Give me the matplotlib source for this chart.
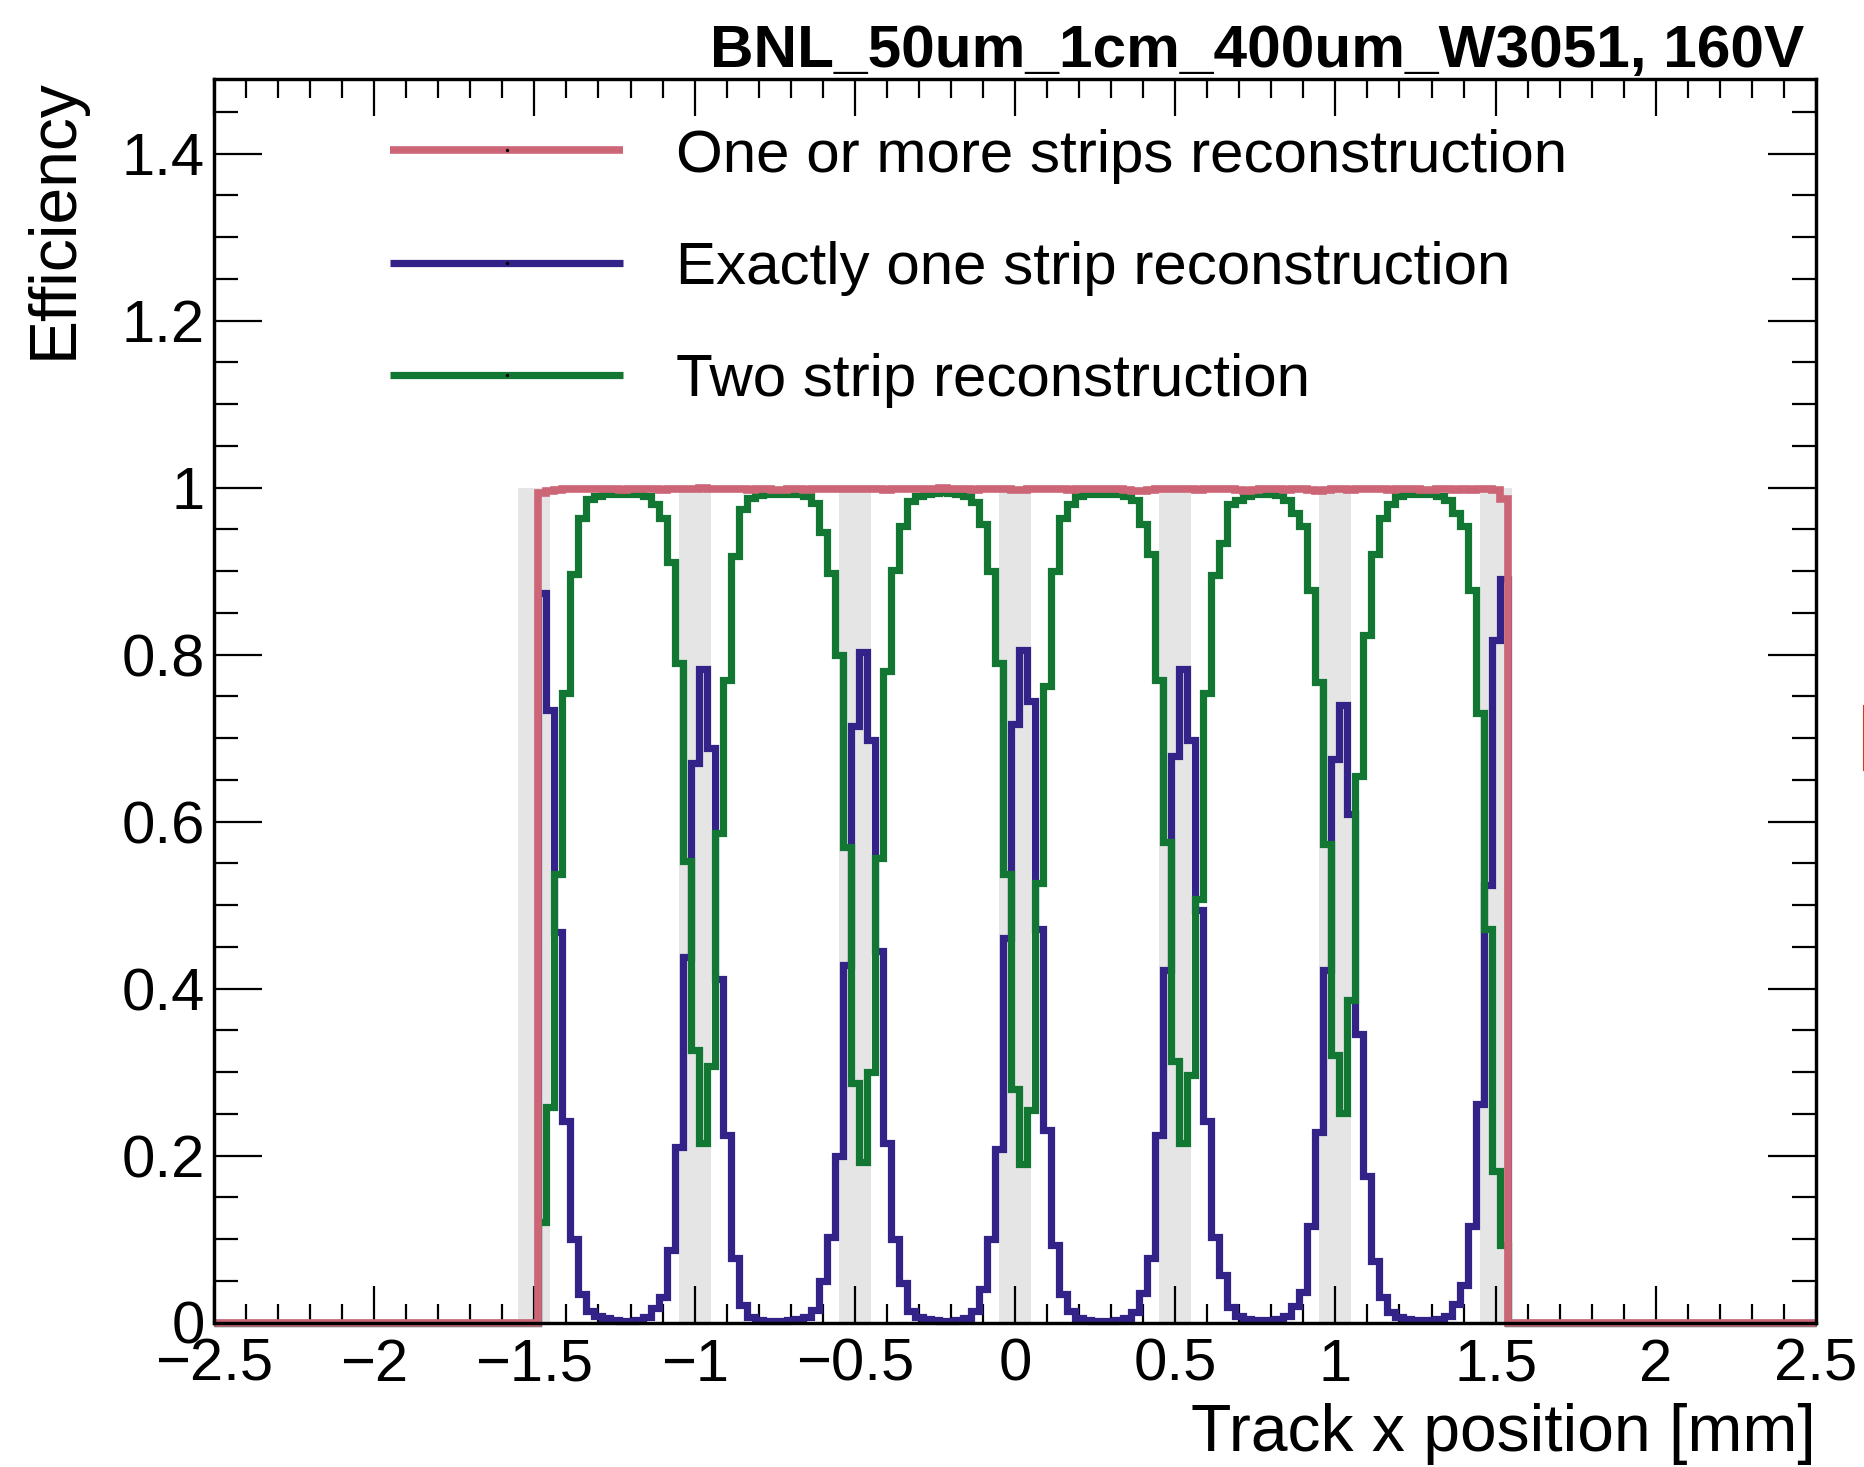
import numpy as np
import matplotlib
matplotlib.use("Agg")
import matplotlib.pyplot as plt
from matplotlib.lines import Line2D
from matplotlib.ticker import MultipleLocator

plt.rcParams['font.family'] = ['Liberation Sans', 'DejaVu Sans']

# ---------------- data ----------------
first_edge = -1.4875      # left edge of first filled bin [mm]
bin_width = 0.025         # [mm]

eff_one_or_more = [
    0.994, 0.996, 0.997, 0.998, 0.998, 0.999, 0.999, 0.999, 0.998, 0.998,
    0.997, 0.998, 0.998, 0.999, 0.998, 0.997, 0.998, 0.999, 0.998, 0.999,
    1.000, 0.999, 0.999, 0.998, 0.998, 0.998, 0.997, 0.998, 0.998, 0.997,
    0.997, 0.998, 0.998, 0.997, 0.998, 0.998, 0.999, 0.999, 0.998, 0.998,
    0.999, 0.999, 0.998, 0.997, 0.998, 0.999, 0.999, 0.998, 0.998, 0.999,
    1.000, 0.999, 0.998, 0.998, 0.997, 0.998, 0.998, 0.999, 0.998, 0.997,
    0.997, 0.998, 0.998, 0.999, 0.998, 0.998, 0.997, 0.998, 0.999, 0.998,
    0.998, 0.999, 0.998, 0.997, 0.996, 0.996, 0.997, 0.998, 0.998, 0.999,
    0.998, 0.998, 0.997, 0.998, 0.998, 0.999, 0.998, 0.997, 0.996, 0.997,
    0.998, 0.998, 0.998, 0.997, 0.998, 0.998, 0.997, 0.996, 0.997, 0.998,
    0.998, 0.997, 0.998, 0.998, 0.999, 0.998, 0.997, 0.998, 0.999, 0.998,
    0.997, 0.997, 0.998, 0.998, 0.997, 0.998, 0.997, 0.998, 0.998, 0.997,
    0.986]

eff_exactly_one = [
    0.874, 0.734, 0.468, 0.241, 0.100, 0.034, 0.014, 0.008, 0.005, 0.003,
    0.002, 0.002, 0.003, 0.007, 0.017, 0.030, 0.087, 0.210, 0.438, 0.670,
    0.783, 0.688, 0.412, 0.225, 0.077, 0.021, 0.006, 0.003, 0.002, 0.002,
    0.002, 0.003, 0.004, 0.006, 0.015, 0.050, 0.103, 0.200, 0.428, 0.714,
    0.803, 0.698, 0.445, 0.215, 0.100, 0.047, 0.014, 0.006, 0.004, 0.003,
    0.002, 0.002, 0.003, 0.005, 0.014, 0.040, 0.100, 0.208, 0.460, 0.717,
    0.806, 0.744, 0.471, 0.231, 0.093, 0.034, 0.014, 0.005, 0.003, 0.002,
    0.002, 0.002, 0.003, 0.005, 0.012, 0.035, 0.077, 0.225, 0.422, 0.678,
    0.783, 0.698, 0.494, 0.241, 0.103, 0.057, 0.018, 0.008, 0.004, 0.003,
    0.003, 0.003, 0.004, 0.008, 0.020, 0.037, 0.116, 0.228, 0.422, 0.675,
    0.740, 0.609, 0.345, 0.175, 0.074, 0.031, 0.013, 0.006, 0.004, 0.003,
    0.003, 0.003, 0.004, 0.008, 0.022, 0.045, 0.116, 0.262, 0.524, 0.817,
    0.891]

eff_two_strip = [
    0.120, 0.258, 0.537, 0.754, 0.897, 0.964, 0.987, 0.990, 0.992, 0.993,
    0.993, 0.993, 0.992, 0.990, 0.980, 0.964, 0.911, 0.790, 0.553, 0.327,
    0.215, 0.307, 0.586, 0.770, 0.918, 0.974, 0.988, 0.991, 0.993, 0.993,
    0.993, 0.993, 0.992, 0.990, 0.982, 0.947, 0.898, 0.800, 0.570, 0.287,
    0.192, 0.300, 0.556, 0.780, 0.901, 0.954, 0.984, 0.990, 0.993, 0.994,
    0.995, 0.994, 0.993, 0.990, 0.983, 0.957, 0.900, 0.790, 0.537, 0.280,
    0.190, 0.254, 0.527, 0.763, 0.900, 0.964, 0.980, 0.990, 0.992, 0.993,
    0.993, 0.993, 0.992, 0.990, 0.985, 0.957, 0.921, 0.770, 0.576, 0.313,
    0.215, 0.297, 0.507, 0.754, 0.895, 0.934, 0.980, 0.985, 0.990, 0.992,
    0.993, 0.993, 0.991, 0.985, 0.970, 0.954, 0.878, 0.767, 0.573, 0.320,
    0.251, 0.386, 0.655, 0.823, 0.921, 0.964, 0.980, 0.990, 0.992, 0.993,
    0.993, 0.992, 0.990, 0.985, 0.970, 0.954, 0.878, 0.730, 0.471, 0.182,
    0.093]

strip_centers = [-1.5, -1.0, -0.5, 0.0, 0.5, 1.0, 1.5]
strip_width = 0.1
strip_height = 1.0

labels = ["One or more strips reconstruction",
          "Exactly one strip reconstruction",
          "Two strip reconstruction"]
title = "BNL_50um_1cm_400um_W3051, 160V"
xlabel = "Track x position [mm]"
ylabel = "Efficiency"

x_ticks = [-2.5, -2.0, -1.5, -1.0, -0.5, 0.0, 0.5, 1.0, 1.5, 2.0, 2.5]
x_tick_labels = ["\u22122.5", "\u22122", "\u22121.5", "\u22121", "\u22120.5",
                 "0", "0.5", "1", "1.5", "2", "2.5"]
y_ticks = [0.0, 0.2, 0.4, 0.6, 0.8, 1.0, 1.2, 1.4]
y_tick_labels = ["0", "0.2", "0.4", "0.6", "0.8", "1", "1.2", "1.4"]
x_range = (-2.5, 2.5)
y_range = (0.0, 1.49)

# ---------------- style ----------------
c_red = "#CC6677"
c_blue = "#332288"
c_green = "#117733"
c_band = "#E5E5E5"

W, H, DPI = 1865, 1467, 100
fig = plt.figure(figsize=(W / DPI, H / DPI), dpi=DPI)
ax_left, ax_right, ax_top, ax_bottom = 214, 1816, 78.6, 1322.5
ax = fig.add_axes([ax_left / W, 1 - ax_bottom / H,
                   (ax_right - ax_left) / W, (ax_bottom - ax_top) / H])

n = len(eff_one_or_more)
edges = first_edge + bin_width * np.arange(n + 1)
full_edges = np.concatenate([[x_range[0]], edges, [x_range[1]]])

def padded(v):
    return np.concatenate([[0.0], np.asarray(v), [0.0]])

ax.bar(strip_centers, strip_height, width=strip_width, color=c_band,
       linewidth=0, zorder=1)

lw_thin = 5.2
lw_red = 5.5
ax.stairs(padded(eff_exactly_one), full_edges, baseline=None, color=c_blue,
          linewidth=lw_thin, zorder=2, clip_on=False, joinstyle='miter')
ax.stairs(padded(eff_two_strip), full_edges, baseline=None, color=c_green,
          linewidth=lw_thin, zorder=2.1, clip_on=False, joinstyle='miter')
ax.stairs(padded(eff_one_or_more), full_edges, baseline=None, color=c_red,
          linewidth=lw_red, zorder=2.2, clip_on=False, joinstyle='miter')

ax.set_xlim(*x_range)
ax.set_ylim(*y_range)

ax.set_xticks(x_ticks)
ax.set_xticklabels(x_tick_labels)
ax.set_yticks(y_ticks)
ax.set_yticklabels(y_tick_labels)
ax.xaxis.set_minor_locator(MultipleLocator(0.1))
ax.yaxis.set_minor_locator(MultipleLocator(0.05))

tick_fs = 43
ax.tick_params(which='both', direction='in', top=True, right=True,
               width=1.6, colors='black', labelsize=tick_fs)
ax.tick_params(axis='x', which='major', length=26.6, pad=11)
ax.tick_params(axis='x', which='minor', length=13.4)
ax.tick_params(axis='y', which='major', length=34.6, pad=6.5)
ax.tick_params(axis='y', which='minor', length=17.3)
for s in ax.spines.values():
    s.set_linewidth(2.45)
    s.set_zorder(3)

title_fs = 47.5
ax.set_xlabel(xlabel, fontsize=title_fs, loc='right')
ax.xaxis.set_label_coords(1.0, -0.065)
ax.set_ylabel(ylabel, fontsize=title_fs, loc='top')
ax.yaxis.set_label_coords(-0.0799, 1.0)

ax.set_title(title, loc='right', fontsize=43.5, fontweight='bold',
             pad=7.6, x=(1804 - ax_left) / (ax_right - ax_left))

# ---------------- legend ----------------
leg_fs = 43.3
handles = []
for c, lw in [(c_red, lw_red), (c_blue, lw_thin), (c_green, lw_thin)]:
    handles.append(Line2D([0], [0], color=c, lw=lw, solid_capstyle='butt',
                          marker='o', markersize=1.4, markerfacecolor='k',
                          markeredgecolor='k'))
leg = ax.legend(handles, labels, loc='upper left',
                bbox_to_anchor=(390 / W, 1 - 128.5 / H),
                bbox_transform=fig.transFigure, frameon=False,
                fontsize=leg_fs, handlelength=3.88, handletextpad=0.87,
                labelspacing=0.95, borderpad=0, borderaxespad=0, numpoints=1)

# thin cut-off mark at the right edge of the canvas
fig.add_artist(Line2D([1863.5 / W, 1863.5 / W], [1 - 705 / H, 1 - 770 / H],
                      color='#c8402a', lw=0.8))

fig.savefig("out.png", dpi=DPI)
